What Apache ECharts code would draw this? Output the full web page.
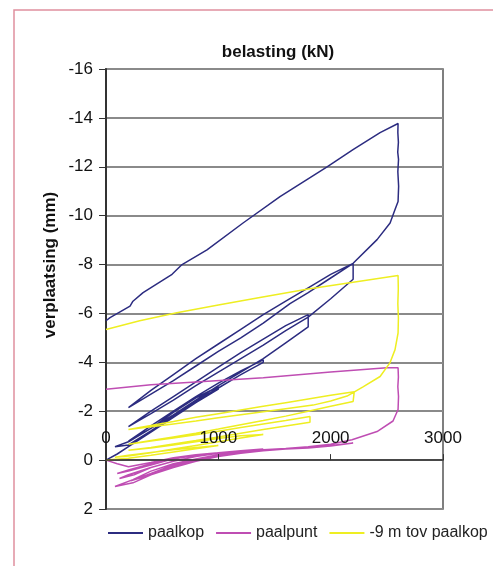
<!DOCTYPE html>
<html>
<head>
<meta charset="utf-8">
<script src="https://cdn.jsdelivr.net/npm/echarts@6/dist/echarts.min.js"></script>
<style>
html,body{margin:0;padding:0;background:#fff;}
#chart{width:493px;height:566px;}
</style>
</head>
<body>
<div id="chart"></div>
<script>
// x: belasting (kN), y: verplaatsing (mm)
const xTicks = [0, 1000, 2000, 3000];
const yTicks = [-16, -14, -12, -10, -8, -6, -4, -2, 0, 2];
const seriesNames = ['paalkop', 'paalpunt', '-9 m tov paalkop'];

const paalkop = [
  [0,0],[100,-0.25],[200,-0.55],[400,-1.15],[600,-1.75],[800,-2.35],[1000,-2.9],[1000,-3.0],
  [800,-2.55],[600,-1.95],[400,-1.3],[200,-0.75],[80,-0.55],
  [200,-0.62],[400,-1.2],[600,-1.8],[800,-2.4],[1000,-2.95],[1200,-3.5],[1400,-4.0],[1400,-4.1],
  [1200,-3.65],[1000,-3.15],[800,-2.6],[600,-2.0],[400,-1.4],[200,-0.78],
  [400,-1.3],[600,-1.85],[800,-2.45],[1000,-3.05],[1200,-3.6],[1400,-4.15],[1600,-4.8],[1800,-5.45],[1800,-5.7],[1800,-5.95],
  [1600,-5.5],[1400,-4.95],[1200,-4.4],[1000,-3.8],[800,-3.2],[600,-2.6],[400,-2.0],[200,-1.37],
  [400,-1.9],[600,-2.45],[800,-3.05],[1000,-3.6],[1200,-4.15],[1400,-4.7],[1600,-5.3],[1800,-5.85],[2000,-6.6],[2200,-7.4],[2200,-7.8],[2200,-8.05],
  [2000,-7.6],[1800,-7.05],[1600,-6.5],[1400,-5.95],[1200,-5.35],[1000,-4.75],[800,-4.15],[600,-3.5],[400,-2.85],[200,-2.15],
  [400,-2.7],[600,-3.25],[800,-3.85],[1000,-4.45],[1200,-5.0],[1400,-5.6],[1638,-6.4],[1800,-6.85],[2000,-7.45],[2200,-8.05],[2413,-9.02],[2529,-9.7],[2573,-10.25],[2600,-10.58],
  [2605,-11.2],[2598,-11.8],[2604,-12.3],[2597,-12.6],[2603,-13.0],[2598,-13.4],[2600,-13.77],
  [2440,-13.4],[2199,-12.7],[1968,-12.0],[1549,-10.78],[1220,-9.7],[899,-8.6],[677,-8.0],[588,-7.6],[330,-6.85],[240,-6.5],[214,-6.3],[36,-5.83],[0,-5.7]
];

const paalpunt = [
  [0,0],[100,0.15],[200,0.27],[400,0.1],[600,-0.1],[800,-0.22],[1000,-0.3],
  [800,-0.2],[600,-0.05],[400,0.15],[200,0.4],[100,0.55],
  [200,0.45],[400,0.2],[600,-0.05],[800,-0.2],[1000,-0.3],[1200,-0.38],[1400,-0.45],
  [1200,-0.38],[1000,-0.3],[800,-0.15],[600,0.05],[400,0.3],[200,0.6],[120,0.75],
  [250,0.6],[400,0.3],[600,0.05],[800,-0.15],[1000,-0.28],[1200,-0.36],[1400,-0.42],[1600,-0.48],[1815,-0.55],
  [1600,-0.45],[1400,-0.38],[1200,-0.3],[1000,-0.2],[800,-0.05],[600,0.15],[400,0.45],[240,0.8],[80,1.08],
  [240,0.93],[450,0.5],[600,0.25],[800,0.0],[1000,-0.2],[1200,-0.32],[1400,-0.4],[1600,-0.45],[1800,-0.5],[2000,-0.58],[2200,-0.7],
  [2000,-0.6],[1800,-0.52],[1600,-0.45],[1400,-0.38],[1200,-0.28],[1000,-0.15],[800,0.05],[600,0.3],[400,0.6],[220,0.85],
  [400,0.55],[600,0.2],[800,-0.05],[1000,-0.22],[1200,-0.35],[1400,-0.42],[1600,-0.48],[1800,-0.55],[2000,-0.65],[2190,-0.83],[2413,-1.17],[2555,-1.6],[2600,-2.07],
  [2604,-2.6],[2598,-3.0],[2603,-3.4],[2600,-3.78],
  [2500,-3.78],[2000,-3.6],[1400,-3.37],[800,-3.2],[400,-3.08],[0,-2.9]
];

const min9m = [
  [0,0],[200,-0.08],[400,-0.2],[600,-0.33],[800,-0.46],[1000,-0.6],
  [800,-0.52],[600,-0.42],[400,-0.31],[200,-0.2],[80,-0.12],
  [200,-0.17],[400,-0.3],[600,-0.45],[800,-0.6],[1000,-0.75],[1200,-0.9],[1400,-1.05],[1400,-1.12],
  [1200,-1.0],[1000,-0.88],[800,-0.75],[600,-0.62],[400,-0.5],[200,-0.4],
  [400,-0.52],[600,-0.66],[800,-0.8],[1000,-0.95],[1200,-1.1],[1400,-1.25],[1600,-1.4],[1816,-1.55],[1816,-1.78],
  [1600,-1.62],[1400,-1.48],[1200,-1.33],[1000,-1.18],[800,-1.04],[600,-0.9],[400,-0.78],[200,-0.65],
  [400,-0.8],[600,-0.95],[800,-1.1],[1000,-1.27],[1200,-1.45],[1400,-1.62],[1600,-1.8],[1800,-2.0],[2000,-2.2],[2200,-2.4],[2210,-2.8],
  [2000,-2.65],[1800,-2.5],[1600,-2.35],[1400,-2.2],[1200,-2.05],[1000,-1.9],[800,-1.75],[600,-1.58],[400,-1.42],[200,-1.25],
  [400,-1.36],[600,-1.48],[800,-1.6],[1000,-1.73],[1200,-1.86],[1400,-1.98],[1600,-2.1],[1843,-2.25],[2000,-2.42],[2146,-2.62],[2288,-3.0],[2440,-3.42],[2529,-3.99],[2573,-4.52],[2600,-5.2],
  [2603,-5.8],[2598,-6.4],[2602,-7.0],[2600,-7.55],
  [2200,-7.28],[1800,-7.0],[1370,-6.65],[1000,-6.35],[630,-6.03],[300,-5.7],[0,-5.34]
];

const colors = ['#2c2c80', '#bf4db3', '#eeee22'];
const FONT = '"Liberation Sans", Arial, sans-serif';

const GRID = {left: 106, right: 50, top: 69, bottom: 57};
const H = 566;
const plotH = H - GRID.top - GRID.bottom;
const yMin = yTicks[0], yMax = yTicks[yTicks.length - 1];
// x axis sits on the y = 0 line, labels above it
const xAxisOffset = -plotH * (0 - yMin) / (yMax - yMin);

const chart = echarts.init(document.getElementById('chart'), null, {renderer: 'canvas'});
chart.setOption({
  animation: false,
  backgroundColor: '#fff',
  grid: Object.assign({show: true, borderColor: '#555', borderWidth: 1.5, backgroundColor: '#fff'}, GRID),
  xAxis: {
    type: 'value', position: 'top', offset: xAxisOffset, z: 5,
    min: xTicks[0], max: xTicks[xTicks.length - 1], interval: 1000,
    axisLine: {show: true, onZero: false, lineStyle: {color: '#333', width: 1.5}},
    axisTick: {show: true, length: 6, lineStyle: {color: '#333'}},
    axisLabel: {color: '#111', fontSize: 17, fontFamily: FONT, margin: 13, formatter: v => String(v)},
    splitLine: {show: false}
  },
  yAxis: {
    type: 'value', inverse: true,
    min: yMin, max: yMax, interval: 2,
    axisLine: {show: true, lineStyle: {color: '#333', width: 2}},
    axisTick: {show: true, length: 7, lineStyle: {color: '#333'}},
    axisLabel: {color: '#111', fontSize: 17, fontFamily: FONT, margin: 13},
    splitLine: {show: true, lineStyle: {color: '#8a8a8a', width: 2}}
  },
  legend: {
    left: 108, top: 525, width: 385, padding: 0, itemWidth: 35, itemHeight: 2, itemGap: 12, icon: 'rect',
    textStyle: {fontSize: 16, fontFamily: FONT, color: '#222'},
    data: seriesNames
  },
  graphic: [
    {type: 'rect', shape: {x: 14, y: 10, width: 600, height: 700}, style: {fill: 'none', stroke: '#e0909e', lineWidth: 1.5}, silent: true, z: -10},
    {type: 'text', x: 278, y: 52, style: {text: 'belasting (kN)', font: 'bold 17px ' + FONT, fill: '#111', textAlign: 'center', textVerticalAlign: 'middle'}},
    {type: 'text', x: 50, y: 265, rotation: Math.PI / 2, style: {text: 'verplaatsing (mm)', font: 'bold 17px ' + FONT, fill: '#111', textAlign: 'center', textVerticalAlign: 'middle'}}
  ],
  series: [
    {name: seriesNames[0], type: 'line', data: paalkop, symbol: 'none', showSymbol: false, lineStyle: {color: colors[0], width: 1.5}, itemStyle: {color: colors[0]}},
    {name: seriesNames[1], type: 'line', data: paalpunt, symbol: 'none', showSymbol: false, lineStyle: {color: colors[1], width: 1.5}, itemStyle: {color: colors[1]}},
    {name: seriesNames[2], type: 'line', data: min9m, symbol: 'none', showSymbol: false, lineStyle: {color: colors[2], width: 1.5}, itemStyle: {color: colors[2]}}
  ]
});
</script>
</body>
</html>
